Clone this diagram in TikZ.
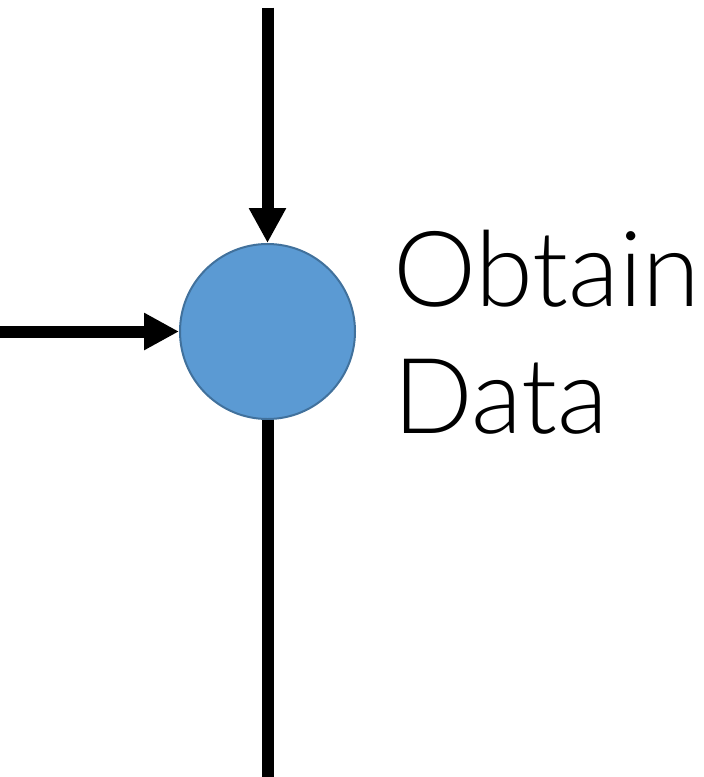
\documentclass[tikz,border=0pt]{standalone}
\usepackage{fontspec}
\setmainfont{Lato}[UprightFont=* Light]
\usetikzlibrary{arrows.meta}
\definecolor{circfill}{HTML}{5B9AD3}
\definecolor{circline}{HTML}{41719C}
\tikzset{
  conn/.style={line width=12pt, draw=black},
  headarrow/.style={conn, -{Triangle[length=35pt,width=35pt]}, shorten >=0pt},
  stepcircle/.style={circle, minimum size=175pt, inner sep=0pt, fill=circfill, draw=circline, line width=2pt},
  lbl/.style={anchor=base west, align=left, inner sep=0pt, font=\fontsize{105}{127}\selectfont}
}
\begin{document}
\begin{tikzpicture}[x=1pt,y=-1pt]
\useasboundingbox (0,0) rectangle (704,777);
\node[stepcircle] (c) at (267.5,331.5) {};
\coordinate (t) at (267.5,7.5);
\coordinate (l) at (0,331.5);
\coordinate (b) at (267.5,777);
\draw[headarrow] (t) -- (c.north);
\draw[headarrow] (l) -- (c.west);
\draw[conn] (c.south) -- (b);
\node[lbl] (txt) at (393,433) {Obtain\\Data};
\end{tikzpicture}
\end{document}
